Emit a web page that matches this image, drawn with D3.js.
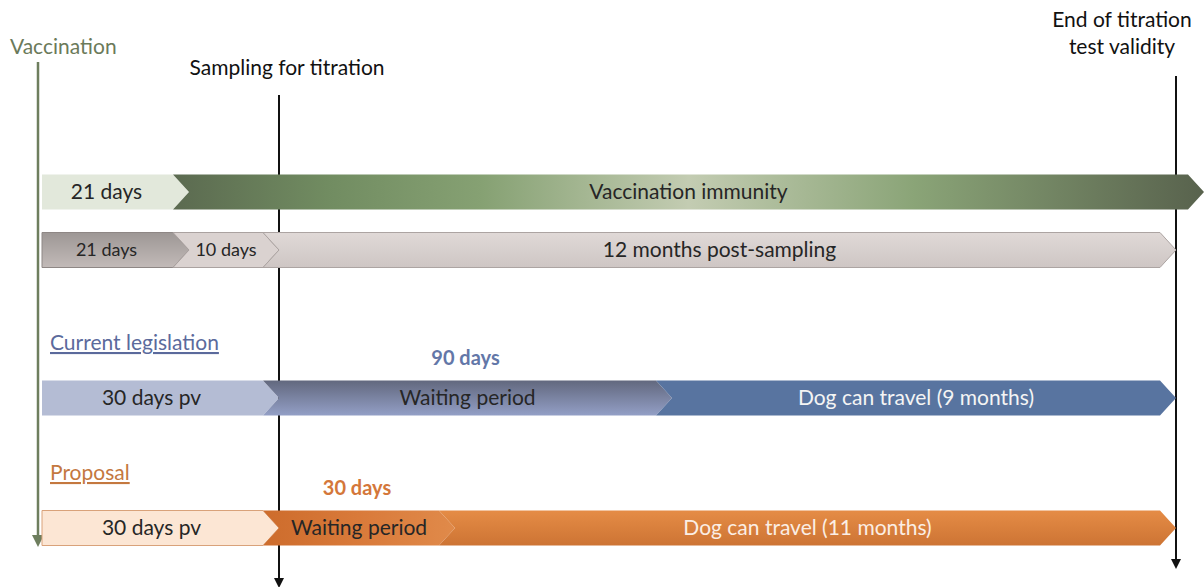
<!DOCTYPE html>
<html>
<head>
<meta charset="utf-8">
<script src="https://cdn.jsdelivr.net/npm/d3@7"></script>
<style>
  body { margin: 0; background: #fff; }
  text { font-family: Lato, "Open Sans", sans-serif; }
</style>
</head>
<body>
<svg id="timeline" width="1204" height="587"></svg>
<script>
// rows of the timeline, each one a list of day boundaries and segment labels
const rows = ["immunity", "sampling", "current", "proposal"];
const immunityDays = [0, 21, 420];
const immunityLabels = ["21 days", "Vaccination immunity"];
const samplingDays = [0, 21, 31, 395];
const samplingLabels = ["21 days", "10 days", "12 months post-sampling"];
const currentDays = [0, 30, 120, 395];
const currentLabels = ["30 days pv", "Waiting period", "Dog can travel (9 months)"];
const proposalDays = [0, 30, 60, 395];
const proposalLabels = ["30 days pv", "Waiting period", "Dog can travel (11 months)"];

// vertical milestones
const milestoneDays = [0, 30, 395];
const milestoneLabels = ["Vaccination", "Sampling for titration", "End of titration|test validity"];

const groupLabels = ["Current legislation", "Proposal"];
const waitLabels = ["90 days", "30 days"];

const svg = d3.select("#timeline");

// schematic (not proportional) time axis
let x = d3.scaleLinear()
    .domain([0, 21, 30, 31, 60, 120, 395, 420])
    .range([40, 189, 279, 279, 455, 672, 1176, 1204]);

let y = d3.scaleOrdinal()
    .domain(rows)
    .range([192, 250, 398, 528]);

const barH = 35;
const tip = 16;

// gradients
let defs = svg.append("defs");
function grad(id, stops, vertical) {
    let g = defs.append("linearGradient").attr("id", id)
        .attr("x1", 0).attr("y1", 0)
        .attr("x2", vertical ? 0 : 1).attr("y2", vertical ? 1 : 0);
    stops.forEach(s => g.append("stop").attr("offset", s[0]).attr("stop-color", s[1]));
}
grad("immunityGrad", [[0, "#5b6a50"], [0.15, "#718c61"], [0.3, "#86a173"], [0.5, "#c3ccb2"], [0.72, "#8aa477"], [1, "#58624d"]], false);
grad("greyDark", [[0, "#9d9795"], [1, "#c2bab8"]], true);
grad("greyLight", [[0, "#e0d9d7"], [1, "#cec6c4"]], true);
grad("blueWait", [[0, "#62687e"], [1, "#939fc6"]], true);
grad("orangeWait", [[0, "#cd6c2c"], [0.5, "#d97a3a"], [1, "#e08a4a"]], false);
grad("orangeTravel", [[0, "#e58c46"], [1, "#cd7434"]], true);

const fills = {
    immunity: ["#e2e8db", "url(#immunityGrad)"],
    sampling: ["url(#greyDark)", "#dad2d0", "url(#greyLight)"],
    current: ["#b4bcd4", "url(#blueWait)", "#5874a0"],
    proposal: ["#fce6d4", "url(#orangeWait)", "url(#orangeTravel)"]
};
const strokes = {
    immunity: ["none", "none"],
    sampling: ["#8e8785", "#aaa2a0", "#aca4a2"],
    current: ["none", "none", "none"],
    proposal: ["#d9a27a", "none", "none"]
};
const textColors = {
    immunity: ["#262626", "#262626"],
    sampling: ["#262626", "#262626", "#262626"],
    current: ["#262626", "#262626", "#f4f4f4"],
    proposal: ["#262626", "#262626", "#fbeee4"]
};
const fontSizes = {
    immunity: [21, 21],
    sampling: [18, 18, 21],
    current: [21, 21, 21],
    proposal: [21, 21, 21]
};

const rowDays = { immunity: immunityDays, sampling: samplingDays, current: currentDays, proposal: proposalDays };
const rowLabels = { immunity: immunityLabels, sampling: samplingLabels, current: currentLabels, proposal: proposalLabels };

// milestone lines (drawn first so bars sit on top)
let markerColors = ["#6e7e5e", "#111", "#111"];
markerColors.forEach((c, i) => {
    defs.append("marker")
        .attr("id", "arrow" + i)
        .attr("viewBox", "0 0 10 10")
        .attr("refX", 2).attr("refY", 5)
        .attr("markerWidth", 5).attr("markerHeight", 5)
        .attr("orient", "auto")
        .attr("markerUnits", "strokeWidth")
        .append("path")
        .attr("d", "M0,0 L10,5 L0,10 Z")
        .attr("fill", c);
});
let lineTops = [62, 95, 76];
let lineBottoms = [545, 588, 569];
milestoneDays.forEach((d, i) => {
    svg.append("line")
        .attr("x1", x(d) - (i == 0 ? 2 : 0))
        .attr("x2", x(d) - (i == 0 ? 2 : 0))
        .attr("y1", lineTops[i])
        .attr("y2", lineBottoms[i] - 8)
        .style("stroke", markerColors[i])
        .style("stroke-width", i == 0 ? 2.5 : 2)
        .attr("marker-end", "url(#arrow" + i + ")");
});

// milestone titles
svg.append("text")
    .attr("x", 10).attr("y", 54)
    .style("font-size", "21px")
    .style("fill", "#6b7a5a")
    .text(milestoneLabels[0]);
svg.append("text")
    .attr("x", 287).attr("y", 75)
    .attr("text-anchor", "middle")
    .style("font-size", "21px")
    .style("fill", "#111")
    .text(milestoneLabels[1]);
milestoneLabels[2].split("|").forEach((t, i) => {
    svg.append("text")
        .attr("x", 1122).attr("y", 27 + i * 27)
        .attr("text-anchor", "middle")
        .style("font-size", "21px")
        .style("fill", "#111")
        .text(t);
});

// chevron bars
rows.forEach(r => {
    let days = rowDays[r];
    let cy = y(r);
    let top = cy - barH / 2, bot = cy + barH / 2;
    for (let i = 0; i < days.length - 1; i++) {
        let x0 = x(days[i]), x1 = x(days[i + 1]);
        let pts;
        if (i == 0) {
            x0 = x0 + 2;
            pts = [[x0, top], [x1 - tip, top], [x1, cy], [x1 - tip, bot], [x0, bot]];
        } else {
            pts = [[x0 - tip, top], [x1 - tip, top], [x1, cy], [x1 - tip, bot], [x0 - tip, bot], [x0, cy]];
        }
        svg.append("polygon")
            .attr("points", pts.map(p => p.join(",")).join(" "))
            .style("fill", fills[r][i])
            .style("stroke", strokes[r][i])
            .style("stroke-width", 1);
    }
    // labels drawn after so later segments don't cover them
    for (let i = 0; i < days.length - 1; i++) {
        let x0 = x(days[i]), x1 = x(days[i + 1]);
        let cx = (x0 + x1 - tip) / 2;
        svg.append("text")
            .attr("x", cx)
            .attr("y", cy)
            .attr("dy", "0.35em")
            .attr("text-anchor", "middle")
            .style("font-size", fontSizes[r][i] + "px")
            .style("fill", textColors[r][i])
            .text(rowLabels[r][i]);
    }
});

// group headings and waiting-period lengths
let groupColors = ["#5b6a9c", "#c4783f"];
let waitColors = ["#6377a8", "#d4773a"];
["current", "proposal"].forEach((r, i) => {
    let cy = y(r);
    svg.append("text")
        .attr("x", 50).attr("y", cy - 48)
        .style("font-size", "21px")
        .style("fill", groupColors[i])
        .style("text-decoration", "underline")
        .text(groupLabels[i]);
    let days = rowDays[r];
    svg.append("text")
        .attr("x", (x(days[1]) + x(days[2])) / 2 - 10)
        .attr("y", cy - 33)
        .attr("text-anchor", "middle")
        .style("font-size", "20px")
        .style("font-weight", "bold")
        .style("fill", waitColors[i])
        .text(waitLabels[i]);
});
</script>
</body>
</html>
